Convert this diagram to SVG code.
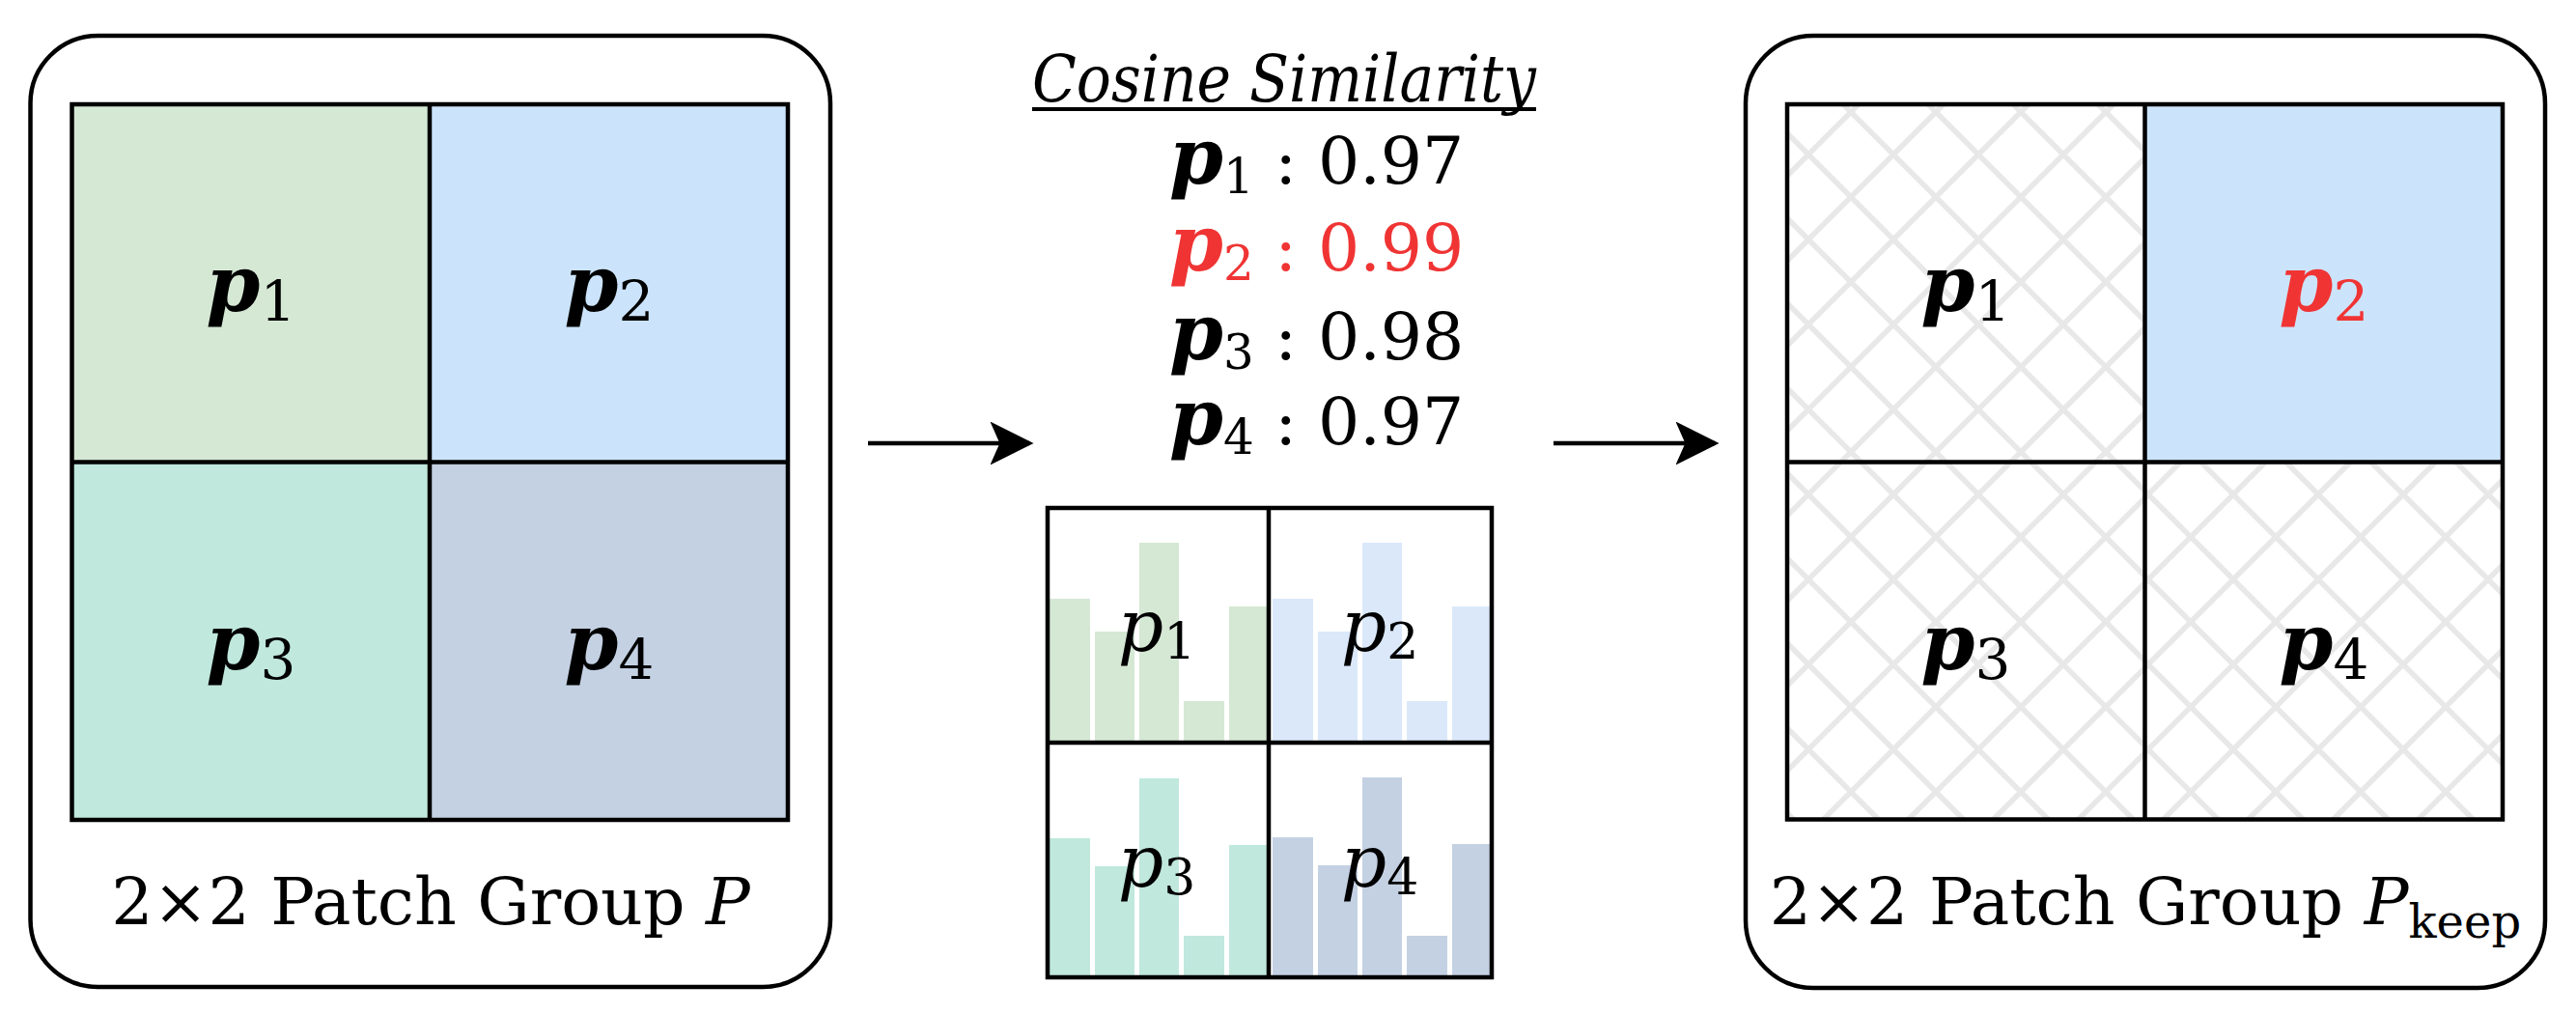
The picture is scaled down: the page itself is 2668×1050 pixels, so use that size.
<svg xmlns="http://www.w3.org/2000/svg" width="2668" height="1050" viewBox="0 0 2668 1050">
<style>
text{font-family:'DejaVu Serif','Liberation Serif',serif}
.box{fill:#fff;stroke:#000;stroke-width:4.5}
.grid{fill:none;stroke:#000;stroke-width:4.5}
.pl{font-style:italic;font-weight:bold;font-size:80px;fill:#000}
.ph{font-style:italic;font-size:74px;fill:#000}
.t{font-size:68px;fill:#000}
.sub{font-style:normal;font-weight:normal}
.red{fill:#f03434}
</style>
<defs>
<pattern id="hatch" patternUnits="userSpaceOnUse" x="1873" y="160" width="88" height="88">
<rect width="88" height="88" fill="#fff"/>
<path d="M-4,-4 L92,92 M92,-4 L-4,92" stroke="#e8e8e8" stroke-width="5.5"/>
</pattern>
<marker id="ah" markerWidth="10" markerHeight="10" refX="9" refY="5" orient="auto" markerUnits="strokeWidth">
<path d="M0,0 L10,5 L0,10 L2.2,5 Z" fill="#000"/>
</marker>
</defs>

<g id="left-group">
<rect class="box" x="31.5" y="37" width="828.5" height="985" rx="70"/>
<rect x="74.5" y="108" width="370.5" height="370.5" fill="#d5e8d4"/>
<rect x="445" y="108" width="371" height="370.5" fill="#cce4fb"/>
<rect x="74.5" y="478.5" width="370.5" height="370.5" fill="#c0e8dd"/>
<rect x="445" y="478.5" width="371" height="370.5" fill="#c4d1e3"/>
<rect class="grid" x="74.5" y="108" width="741.5" height="741"/>
<path class="grid" d="M445,108 V849 M74.5,478.5 H816"/>
<text class="pl" x="260" y="322" text-anchor="middle">p<tspan class="sub" font-size="58" dy="10">1</tspan></text>
<text class="pl" x="631" y="322" text-anchor="middle">p<tspan class="sub" font-size="58" dy="10">2</tspan></text>
<text class="pl" x="260" y="693" text-anchor="middle">p<tspan class="sub" font-size="58" dy="10">3</tspan></text>
<text class="pl" x="631" y="693" text-anchor="middle">p<tspan class="sub" font-size="58" dy="10">4</tspan></text>
<text class="t" x="446" y="957" text-anchor="middle">2×2 Patch Group <tspan font-style="italic">P</tspan></text>
</g>

<g id="similarity">
<text class="t" x="1069" y="105" font-style="italic" textLength="522" lengthAdjust="spacingAndGlyphs">Cosine Similarity</text>
<rect x="1069" y="111" width="522" height="4" fill="#000"/>
<text class="t" x="1211" y="190"><tspan class="pl" font-size="72">p</tspan><tspan font-size="50" dy="10">1</tspan><tspan dy="-10"> : 0.97</tspan></text>
<text class="t red" x="1211" y="280"><tspan class="pl red" font-size="72">p</tspan><tspan font-size="50" dy="10">2</tspan><tspan dy="-10"> : 0.99</tspan></text>
<text class="t" x="1211" y="372"><tspan class="pl" font-size="72">p</tspan><tspan font-size="50" dy="10">3</tspan><tspan dy="-10"> : 0.98</tspan></text>
<text class="t" x="1211" y="460"><tspan class="pl" font-size="72">p</tspan><tspan font-size="50" dy="10">4</tspan><tspan dy="-10"> : 0.97</tspan></text>
</g>

<g id="histograms">
<g fill="#d5e8d4">
<rect x="1087" y="620" width="42" height="147"/><rect x="1134" y="654" width="41" height="113"/><rect x="1180" y="562" width="41" height="205"/><rect x="1226" y="726" width="42" height="41"/><rect x="1273" y="628" width="41" height="139"/>
</g>
<g fill="#dae8fa">
<rect x="1318" y="620" width="42" height="147"/><rect x="1365" y="654" width="41" height="113"/><rect x="1411" y="562" width="41" height="205"/><rect x="1457" y="726" width="42" height="41"/><rect x="1504" y="628" width="41" height="139"/>
</g>
<g fill="#c0e8dd">
<rect x="1087" y="868" width="42" height="143"/><rect x="1134" y="897" width="41" height="114"/><rect x="1180" y="806" width="41" height="205"/><rect x="1226" y="969" width="42" height="42"/><rect x="1273" y="875" width="41" height="136"/>
</g>
<g fill="#c4d1e3">
<rect x="1318" y="867" width="42" height="144"/><rect x="1365" y="896" width="41" height="115"/><rect x="1411" y="805" width="41" height="206"/><rect x="1457" y="969" width="42" height="42"/><rect x="1504" y="874" width="41" height="137"/>
</g>
<rect class="grid" x="1085" y="526" width="460" height="486"/>
<path class="grid" d="M1314,526 V1012 M1085,769 H1545"/>
<text class="ph" x="1198" y="674" text-anchor="middle">p<tspan class="sub" font-size="52" dy="8">1</tspan></text>
<text class="ph" x="1429" y="674" text-anchor="middle">p<tspan class="sub" font-size="52" dy="8">2</tspan></text>
<text class="ph" x="1198" y="918" text-anchor="middle">p<tspan class="sub" font-size="52" dy="8">3</tspan></text>
<text class="ph" x="1429" y="918" text-anchor="middle">p<tspan class="sub" font-size="52" dy="8">4</tspan></text>
</g>

<g id="right-group">
<rect class="box" x="1808" y="37" width="828" height="986" rx="70"/>
<rect x="1851" y="108" width="370.5" height="370.5" fill="url(#hatch)"/>
<rect x="2221.5" y="108" width="370.5" height="370.5" fill="#cce4fb"/>
<rect x="1851" y="478.5" width="370.5" height="370" fill="url(#hatch)"/>
<rect x="2221.5" y="478.5" width="370.5" height="370" fill="url(#hatch)"/>
<rect class="grid" x="1851" y="108" width="741" height="740.5"/>
<path class="grid" d="M2221.5,108 V848.5 M1851,478.5 H2592"/>
<text class="pl" x="2036" y="322" text-anchor="middle">p<tspan class="sub" font-size="58" dy="10">1</tspan></text>
<text class="pl red" x="2407" y="322" text-anchor="middle">p<tspan class="sub" font-size="58" dy="10">2</tspan></text>
<text class="pl" x="2036" y="693" text-anchor="middle">p<tspan class="sub" font-size="58" dy="10">3</tspan></text>
<text class="pl" x="2407" y="693" text-anchor="middle">p<tspan class="sub" font-size="58" dy="10">4</tspan></text>
<text class="t" x="2222" y="957" text-anchor="middle">2×2 Patch Group <tspan font-style="italic">P</tspan><tspan font-size="48" dy="14">keep</tspan></text>
</g>

<g id="connectors" stroke="#000" stroke-width="4.5" fill="none">
<line x1="899" y1="459" x2="1066" y2="459" marker-end="url(#ah)"/>
<line x1="1609" y1="459" x2="1776" y2="459" marker-end="url(#ah)"/>
</g>
</svg>
